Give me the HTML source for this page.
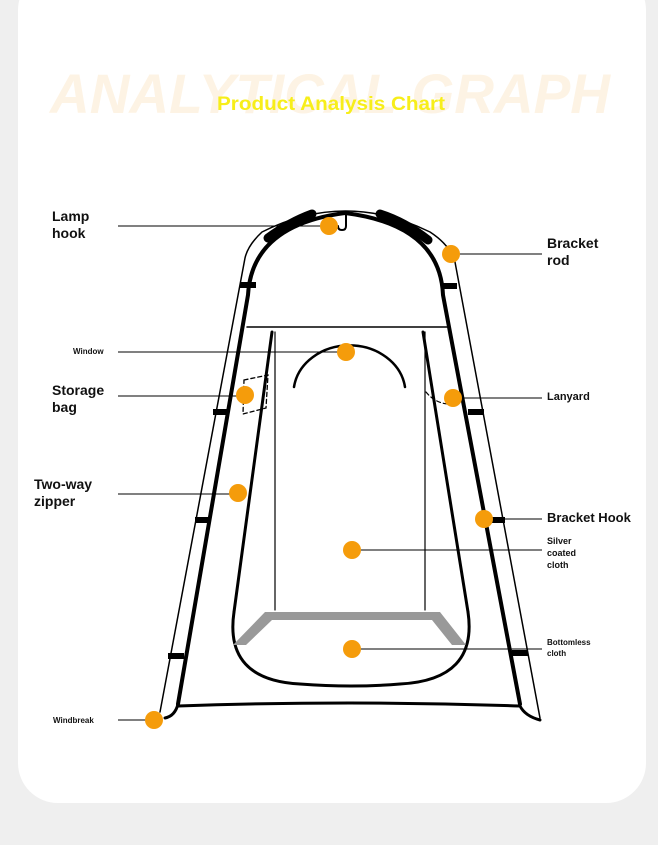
<!DOCTYPE html>
<html><head><meta charset="utf-8"><style>
html,body{margin:0;padding:0;width:658px;height:845px;overflow:hidden;background:#efefef;font-family:"Liberation Sans",sans-serif}
.card{position:absolute;left:18px;top:-30px;width:628px;height:833px;background:#fff;border-radius:40px}
svg{position:absolute;left:0;top:0}
</style></head><body>
<div class="card"></div>
<svg width="658" height="845" viewBox="0 0 658 845">
<text x="50" y="113" textLength="560" lengthAdjust="spacingAndGlyphs" font-family="Liberation Sans" font-style="italic" font-weight="bold" font-size="56" fill="#fdf3e4">ANALYTICAL GRAPH</text>
<text x="217" y="110" textLength="228" lengthAdjust="spacingAndGlyphs" font-family="Liberation Sans" font-weight="bold" font-size="19" fill="#f7ee1a">Product Analysis Chart</text>

<g fill="none" stroke="#000" stroke-linecap="round">
<path d="M160 712 L245 258 Q248 245 262 232 Q345 190 430 232 Q450 245 455 262 L540 718" stroke-width="1.5"/>
<path d="M178 704 L248 295 Q252 225 345 213 Q440 225 443 295 L520 704" stroke-width="4"/>
<path d="M268 238 Q290 222 312 214" stroke-width="9"/>
<path d="M380 214 Q405 222 428 240" stroke-width="9"/>
<path d="M247 327 L448 327" stroke-width="1.5"/>
<path d="M272 332 L234 612" stroke-width="3"/>
<path d="M423 332 L468 612" stroke-width="3"/>
<path d="M275 332 L275 610 M425 332 L425 610" stroke-width="1.2"/>
<path d="M234 612 Q224 680 300 684 Q352 688 400 684 Q478 680 468 612" stroke-width="3"/>
<path d="M178 704 Q175 716 165 718 M178 706 Q350 700 520 706 Q525 716 540 720" stroke-width="3"/>
<path d="M294 387 A56 48 0 0 1 405 387" stroke-width="2.5"/>
<path d="M346 214 L346 226 Q346 230 342 230 Q338 230 338 226" stroke-width="2"/>
<path d="M244 380 L268 375 L266 408 L243 414 Z" stroke-width="1.3" stroke-dasharray="4 3"/>
<path d="M426 392 Q435 403 448 404" stroke-width="1.2" stroke-dasharray="4 3"/>
<path d="M240 285 L256 285 M441 286 L457 286 M213 412 L229 412 M468 412 L484 412 M195 520 L211 520 M490 520 L505 520 M168 656 L184 656 M512 653 L528 653" stroke-width="6" stroke-linecap="butt"/>
</g>
<path d="M265 612 L440 612 L466 645 L452 645 L432 620 L272 620 L246 645 L233 645 Z" fill="#999"/>

<g stroke="#000" stroke-width="1">
<line x1="118" y1="226" x2="329" y2="226"/>
<line x1="451" y1="254" x2="542" y2="254"/>
<line x1="118" y1="352" x2="346" y2="352"/>
<line x1="118" y1="396" x2="245" y2="396"/>
<line x1="453" y1="398" x2="542" y2="398"/>
<line x1="118" y1="494" x2="238" y2="494"/>
<line x1="484" y1="519" x2="542" y2="519"/>
<line x1="352" y1="550" x2="542" y2="550"/>
<line x1="352" y1="649" x2="542" y2="649"/>
<line x1="118" y1="720" x2="154" y2="720"/>
</g>
<g fill="#f59c0b">
<circle cx="329" cy="226" r="9"/><circle cx="451" cy="254" r="9"/><circle cx="346" cy="352" r="9"/>
<circle cx="245" cy="395" r="9"/><circle cx="453" cy="398" r="9"/><circle cx="238" cy="493" r="9"/>
<circle cx="484" cy="519" r="9"/><circle cx="352" cy="550" r="9"/><circle cx="352" cy="649" r="9"/>
<circle cx="154" cy="720" r="9"/>
</g>
<g font-family="Liberation Sans" font-weight="bold" fill="#111">
<text x="52" y="221" font-size="14">Lamp</text><text x="52" y="238" font-size="14">hook</text>
<text x="73" y="354" font-size="8">Window</text>
<text x="52" y="395" font-size="14">Storage</text><text x="52" y="412" font-size="14">bag</text>
<text x="34" y="489" font-size="14">Two-way</text><text x="34" y="506" font-size="14">zipper</text>
<text x="53" y="723" font-size="8">Windbreak</text>
<text x="547" y="248" font-size="14">Bracket</text><text x="547" y="265" font-size="14">rod</text>
<text x="547" y="400" font-size="11">Lanyard</text>
<text x="547" y="522" font-size="13">Bracket Hook</text>
<text x="547" y="544" font-size="9">Silver</text><text x="547" y="556" font-size="9">coated</text><text x="547" y="568" font-size="9">cloth</text>
<text x="547" y="645" font-size="8">Bottomless</text><text x="547" y="656" font-size="8">cloth</text>
</g>
</svg>
</body></html>
